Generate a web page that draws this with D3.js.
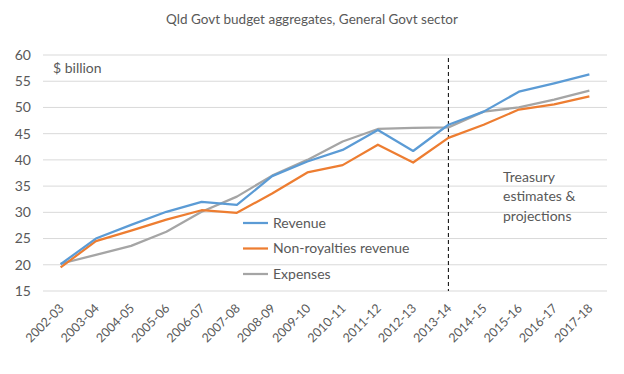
<!DOCTYPE html>
<html>
<head>
<meta charset="utf-8">
<script src="https://cdn.jsdelivr.net/npm/d3@7"></script>
<style>
  body { margin: 0; background: #fff; }
  text { font-family: Lato, "Open Sans", sans-serif; fill: #595959; }
</style>
</head>
<body>
<svg id="chart" width="624" height="374"></svg>
<script>
const years = ["2002-03", "2003-04", "2004-05", "2005-06", "2006-07", "2007-08", "2008-09", "2009-10",
  "2010-11", "2011-12", "2012-13", "2013-14", "2014-15", "2015-16", "2016-17", "2017-18"];
const revenue = [20.1, 25.0, 27.6, 30.1, 32.0, 31.4, 36.9, 39.7, 41.9, 45.7, 41.7, 46.7, 49.2, 53.0, 54.6, 56.3];
const nonRoyalties = [19.5, 24.5, 26.5, 28.6, 30.4, 29.9, 33.6, 37.6, 39.0, 42.9, 39.5, 44.2, 46.7, 49.6, 50.6, 52.1];
const expenses = [20.2, 21.9, 23.6, 26.3, 30.1, 33.0, 37.0, 40.0, 43.5, 45.9, 46.1, 46.2, 49.2, 50.0, 51.5, 53.2];
const yTicks = [15, 20, 25, 30, 35, 40, 45, 50, 55, 60];
const splitYear = "2013-14";

const series = [
  { name: "Revenue", values: revenue, color: "#5B9BD5" },
  { name: "Non-royalties revenue", values: nonRoyalties, color: "#ED7D31" },
  { name: "Expenses", values: expenses, color: "#A5A5A5" }
];

const svg = d3.select("#chart");
const plot = { left: 43, right: 607, top: 55, bottom: 291 };

const x = d3.scalePoint().domain(years).range([plot.left, plot.right]).padding(0.5);
const y = d3.scaleLinear().domain([15, 60]).range([plot.bottom, plot.top]);

// title
svg.append("text")
  .attr("x", 312).attr("y", 24)
  .attr("text-anchor", "middle")
  .attr("font-size", 13.5)
  .text("Qld Govt budget aggregates, General Govt sector");

// gridlines
svg.append("g")
  .selectAll("line")
  .data(yTicks)
  .join("line")
  .attr("x1", plot.left).attr("x2", plot.right)
  .attr("y1", d => y(d)).attr("y2", d => y(d))
  .attr("stroke", "#D9D9D9").attr("stroke-width", 1);

// y axis labels
svg.append("g")
  .selectAll("text")
  .data(yTicks)
  .join("text")
  .attr("x", 31).attr("y", d => y(d))
  .attr("dy", "0.35em")
  .attr("text-anchor", "end")
  .attr("font-size", 14)
  .text(d => d);

// x axis labels
svg.append("g")
  .selectAll("text")
  .data(years)
  .join("text")
  .attr("transform", d => `translate(${x(d) + 1},${plot.bottom + 15}) rotate(-45)`)
  .attr("text-anchor", "end")
  .attr("dy", "0.35em")
  .attr("font-size", 12.5)
  .text(d => d);

// dashed split line
svg.append("line")
  .attr("x1", x(splitYear)).attr("x2", x(splitYear))
  .attr("y1", plot.top + 3).attr("y2", plot.bottom)
  .attr("stroke", "#000").attr("stroke-width", 1)
  .attr("stroke-dasharray", "4,3");

// lines
const line = d3.line()
  .x((d, i) => x(years[i]))
  .y(d => y(d));

svg.append("g")
  .selectAll("path")
  .data(series.slice().reverse())
  .join("path")
  .attr("d", d => line(d.values))
  .attr("fill", "none")
  .attr("stroke", d => d.color)
  .attr("stroke-width", 2.25)
  .attr("stroke-linejoin", "round");

// legend
const legend = svg.append("g")
  .selectAll("g")
  .data(series)
  .join("g")
  .attr("transform", (d, i) => `translate(243,${223 + i * 25.5})`);

legend.append("line")
  .attr("x1", 0).attr("x2", 25)
  .attr("stroke", d => d.color)
  .attr("stroke-width", 2.25);

legend.append("text")
  .attr("x", 30).attr("dy", "0.35em")
  .attr("font-size", 14)
  .text(d => d.name);

// annotations
svg.append("text")
  .attr("x", 53).attr("y", 68)
  .attr("dy", "0.35em")
  .attr("font-size", 14)
  .text("$ billion");

svg.append("text")
  .attr("font-size", 14)
  .selectAll("tspan")
  .data(["Treasury", "estimates &", "projections"])
  .join("tspan")
  .attr("x", 503)
  .attr("y", (d, i) => 177 + i * 19.5)
  .attr("dy", "0.35em")
  .text(d => d);
</script>
</body>
</html>
